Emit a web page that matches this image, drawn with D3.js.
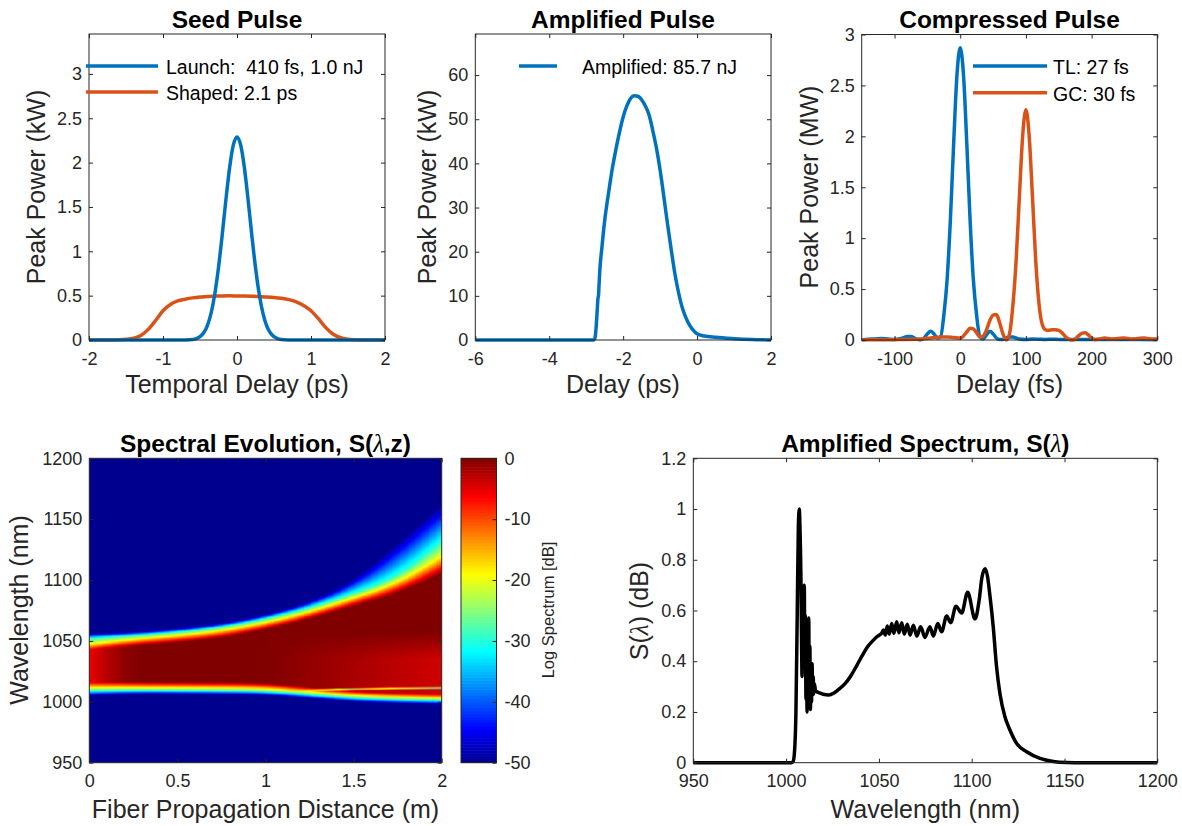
<!DOCTYPE html>
<html><head><meta charset="utf-8">
<script src="https://cdn.jsdelivr.net/npm/d3@7"></script>
<style>
body{margin:0;background:#fff;}
svg{display:block;}
</style></head><body>
<svg id="c" width="1182" height="826"></svg>
<script>
// ---------------- DATA ----------------
// Seed pulse
const seedLaunchT = [-2,-1,-0.8,-0.7,-0.6,-0.55,-0.5,-0.45,-0.4,-0.35,-0.3,-0.25,-0.2,-0.15,-0.1,-0.05,0,0.05,0.1,0.15,0.2,0.25,0.3,0.35,0.4,0.45,0.5,0.55,0.6,0.7,0.8,1,2];
const seedLaunchP = [0,0,0,0.001,0.006,0.016,0.037,0.081,0.163,0.303,0.519,0.817,1.184,1.58,1.942,2.197,2.29,2.197,1.942,1.58,1.184,0.817,0.519,0.303,0.163,0.081,0.037,0.016,0.006,0.001,0,0,0];
const seedShapedT = [-2,-1.9,-1.8,-1.7,-1.6,-1.5,-1.4,-1.3,-1.2,-1.1,-1,-0.9,-0.8,-0.7,-0.6,-0.5,-0.4,-0.3,-0.2,-0.1,0,0.1,0.2,0.3,0.4,0.5,0.6,0.7,0.8,0.9,1,1.1,1.2,1.3,1.4,1.5,1.6,1.7,1.8,1.9,2];
const seedShapedP = [0,0,0,0.001,0.003,0.008,0.02,0.05,0.12,0.22,0.33,0.40,0.44,0.46,0.475,0.485,0.49,0.495,0.497,0.498,0.497,0.496,0.494,0.49,0.486,0.48,0.47,0.455,0.43,0.39,0.33,0.24,0.14,0.065,0.025,0.009,0.003,0.001,0,0,0];
// Amplified pulse
const ampT = [-6,-5,-4,-3,-2.8,-2.76,-2.73,-2.70,-2.68,-2.665,-2.655,-2.63,-2.58,-2.5,-2.4,-2.3,-2.2,-2.1,-2.0,-1.9,-1.8,-1.7,-1.6,-1.5,-1.4,-1.3,-1.2,-1.1,-1.0,-0.9,-0.8,-0.7,-0.6,-0.5,-0.4,-0.3,-0.2,-0.1,0,0.2,0.5,1.0,1.5,2.0];
const ampP = [0,0,0,0,0,0.5,3,7,9.5,10.2,12,16,20.5,27,33,38.5,43,47,50.5,53,54.7,55.3,55.2,54.4,53,51,47.5,43.5,38.5,32.5,26.3,20.5,15,10.7,7.3,5,3.3,2.2,1.4,0.9,0.6,0.3,0.1,0];
// Compressed pulse
const tlT = [-150,-140,-130,-120,-110,-100,-90,-80,-75,-70,-65,-60,-55,-50,-45,-40,-35,-30,-25,-20,-15,-10,-5,0,5,10,15,20,25,30,35,40,45,50,55,60,65,70,75,80,85,90,100,110,120,130,140,150,170,200,230,260,300];
const tlP = [0.003,0.008,0.01,0.015,0.01,0.005,0.015,0.035,0.035,0.02,0.008,0.003,0.02,0.06,0.085,0.06,0.02,0.03,0.24,0.59,1.18,1.93,2.6,2.87,2.6,1.93,1.18,0.59,0.24,0.03,0.01,0.05,0.085,0.06,0.02,0.005,0.005,0.02,0.03,0.03,0.02,0.01,0.005,0.01,0.008,0.005,0.008,0.006,0.005,0.005,0.004,0.004,0.003];
const gcT = [-150,-120,-90,-60,-45,-30,-20,-10,0,5,10,15,20,25,30,35,40,45,50,55,60,65,70,75,80,85,90,95,100,105,110,115,120,125,130,135,140,145,150,155,160,165,170,175,180,185,190,195,200,205,210,220,230,240,250,260,270,280,290,300];
const gcP = [0.002,0.003,0.005,0.01,0.02,0.03,0.03,0.025,0.02,0.04,0.08,0.115,0.11,0.07,0.03,0.04,0.1,0.19,0.245,0.25,0.17,0.06,0.0,0.06,0.33,0.77,1.40,2.0,2.26,2.0,1.4,0.77,0.35,0.15,0.1,0.095,0.1,0.1,0.095,0.07,0.035,0.01,0.0,0.01,0.04,0.065,0.07,0.05,0.02,0.005,0.008,0.02,0.01,0.015,0.02,0.01,0.015,0.02,0.01,0.01];
// Amplified spectrum [wavelength nm, S]
const ampSpectrum = [[950,0],[1000,0],[1003,0],[1003.8,0.005],[1004.5,0.04],[1005.3,0.2],[1006.0,0.59],[1006.6,0.93],[1007.1,1.0],[1007.5,0.92],[1008.0,0.72],[1008.3,0.5],[1008.6,0.34],[1008.9,0.55],[1009.2,0.42],[1009.5,0.66],[1009.8,0.70],[1010.1,0.38],[1010.4,0.58],[1010.7,0.25],[1011.0,0.48],[1011.3,0.20],[1011.6,0.52],[1011.9,0.24],[1012.2,0.57],[1012.5,0.23],[1012.8,0.46],[1013.1,0.21],[1013.4,0.36],[1013.7,0.24],[1014.0,0.39],[1014.3,0.27],[1014.6,0.34],[1014.9,0.27],[1015.3,0.31],[1015.8,0.285],[1016.5,0.28],[1018,0.275],[1020,0.27],[1023,0.267],[1026,0.276],[1029,0.293],[1032,0.314],[1035,0.344],[1038,0.382],[1041,0.422],[1044,0.458],[1047,0.483],[1049,0.497],[1050.6,0.505],[1051.5,0.51],[1052.4,0.523],[1053.5,0.503],[1054.5,0.539],[1055.6,0.507],[1056.9,0.549],[1058.1,0.51],[1059.6,0.556],[1060.8,0.512],[1062.3,0.552],[1063.7,0.507],[1065.3,0.546],[1066.8,0.503],[1068.6,0.542],[1070.4,0.499],[1072.5,0.536],[1074.8,0.494],[1077.5,0.536],[1079.3,0.499],[1081.7,0.549],[1083.8,0.516],[1086.5,0.578],[1088.7,0.552],[1091.5,0.617],[1094.6,0.59],[1097.8,0.672],[1101.8,0.567],[1104,0.64],[1105.5,0.73],[1107.2,0.765],[1108.5,0.735],[1109.8,0.66],[1111.6,0.536],[1113.4,0.378],[1115.2,0.273],[1117.9,0.181],[1120.6,0.129],[1124.2,0.076],[1129.6,0.043],[1136.8,0.017],[1144,0.005],[1151,0.001],[1160,0],[1200,0]];
// Spectral evolution: band contours (dB) read versus propagation distance
const evoZ = [0, 0.25, 0.5, 0.75, 1.0, 1.25, 1.5, 1.75, 2.0];
const evoUpperEdge  = [1048, 1052.5, 1055.4, 1059, 1065.8, 1074.5, 1086.4, 1098, 1120.6]; // -20 dB contour
const evoUpperInner = [6, 6, 6, 6, 6, 6, 7, 9, 15];          // nm from -20 dB to core
const evoUpperFall1 = [5, 2.6, 2.4, 2.5, 2.8, 3, 3.4, 4.5, 12];  // nm from -20 to -30 dB
const evoUpperFall2 = [3.5, 2.5, 2.7, 3, 3, 4.5, 9, 28, 30];   // nm from -30 to -50 dB
const evoLowerEdge  = [1012, 1012, 1011.8, 1011.6, 1011.3, 1008.5, 1005.6, 1004.3, 1003.6];
const evoLowerInner = [6, 5, 5, 5, 5, 4, 4, 4, 4];
const evoLowerFall1 = [2.5, 2, 2, 2, 2, 2, 2, 2, 2];
const evoLowerFall2 = [4, 3, 3, 3, 3, 3, 3, 3, 3];
const evoCoreZ  = [0, 0.05, 0.1, 0.2, 0.3, 1.0, 1.25, 1.5, 1.75, 2.0];
const evoCoreDb = [-5.5, -4.2, -2.8, -0.8, 0, 0, 0, 0, 0, 0];
const evoLowBandDb = [0, 0, 0, 0, 0, 0, -1, -2, -3, -4];   // lighter red below ~1045 nm
const evoNotchZ = [1.15, 1.3, 1.5, 1.75, 2.0];
const evoNotchLam = [1009.5, 1010.3, 1011.2, 1011.6, 1011.8];
const evoNotchDb = [0, -12, -25, -30, -30];
// Ticks
const seedXTicks = [-2,-1,0,1,2], seedYTicks = [0,0.5,1,1.5,2,2.5,3];
const ampXTicks = [-6,-4,-2,0,2], ampYTicks = [0,10,20,30,40,50,60];
const compXTicks = [-100,0,100,200,300], compYTicks = [0,0.5,1,1.5,2,2.5,3];
const evoXTicks = [0,0.5,1,1.5,2], evoYTicks = [950,1000,1050,1100,1150,1200];
const cbTicks = [-50,-40,-30,-20,-10,0];
const specXTicks = [950,1000,1050,1100,1150,1200], specYTicks = [0,0.2,0.4,0.6,0.8,1,1.2];

// ---------------- DRAWING ----------------
const FONT = '"Liberation Sans", Arial, Helvetica, sans-serif';
const SERIF = '"Liberation Serif", "Times New Roman", serif';
const AX = "#262626", BLUE = "#0072BD", ORANGE = "#D95319";
const LW = 3.5, TICKF = 18, LABF = 25, TITF = 24.5, LEGF = 19.5;
const svg = d3.select("#c").attr("font-family", FONT);

function drawAxes(x, y, xt, yt) {
  const g = svg.append("g").attr("color", AX);
  const [x0, x1] = x.range(); const [y1, y0] = y.range();
  const fmt = d => String(d);
  const ts = 4;
  g.append("g").attr("transform", `translate(0,${y1})`).call(d3.axisBottom(x).tickValues(xt).tickSize(-ts).tickPadding(12).tickFormat(fmt));
  g.append("g").attr("transform", `translate(0,${y0})`).call(d3.axisTop(x).tickValues(xt).tickSize(-ts).tickFormat(""));
  g.append("g").attr("transform", `translate(${x0},0)`).call(d3.axisLeft(y).tickValues(yt).tickSize(-ts).tickPadding(7).tickFormat(fmt));
  g.append("g").attr("transform", `translate(${x1},0)`).call(d3.axisRight(y).tickValues(yt).tickSize(-ts).tickFormat(""));
  g.selectAll(".domain").remove();
  g.selectAll("text").attr("font-family", FONT).attr("font-size", TICKF).attr("fill", AX);
  g.append("rect").attr("x", x0).attr("y", y0).attr("width", x1 - x0).attr("height", y1 - y0)
    .attr("fill", "none").attr("stroke", AX).attr("stroke-width", 1);
}
function title(txt, cx, by, lam) {
  const t = svg.append("text").attr("x", cx).attr("y", by).attr("text-anchor", "middle")
    .attr("font-size", TITF).attr("font-weight", "bold").attr("fill", "#000");
  if (!lam) { t.text(txt); return; }
  t.append("tspan").text(lam[0]);
  t.append("tspan").attr("font-family", SERIF).attr("font-style", "italic").attr("font-weight", "normal").text("λ");
  t.append("tspan").text(lam[1]);
}
function xlab(txt, cx, by) {
  svg.append("text").attr("x", cx).attr("y", by).attr("text-anchor", "middle")
    .attr("font-size", LABF).attr("fill", AX).text(txt);
}
function ylab(parts, bx, cy, size) {
  const t = svg.append("text").attr("transform", `translate(${bx},${cy}) rotate(-90)`)
    .attr("text-anchor", "middle").attr("font-size", size || LABF).attr("fill", AX);
  if (typeof parts === "string") { t.text(parts); return; }
  t.append("tspan").text(parts[0]);
  t.append("tspan").attr("font-family", SERIF).attr("font-style", "italic").text("λ");
  t.append("tspan").text(parts[1]);
}
function line(x, y, X, Y, color, curve) {
  const pts = X.map((v, i) => [v, Y[i]]);
  svg.append("path").datum(pts).attr("fill", "none").attr("stroke", color).attr("stroke-width", LW)
    .attr("stroke-linejoin", "round")
    .attr("d", d3.line().x(d => x(d[0])).y(d => y(d[1])).curve(curve || d3.curveMonotoneX));
}
function legendItem(x1, x2, ly, color, txt, tx) {
  svg.append("line").attr("x1", x1).attr("x2", x2).attr("y1", ly).attr("y2", ly)
    .attr("stroke", color).attr("stroke-width", LW);
  svg.append("text").attr("x", tx).attr("y", ly + 8).attr("font-size", LEGF).attr("fill", "#000")
    .style("white-space", "pre").text(txt);
}

// Panel 1: Seed pulse
{
  const x = d3.scaleLinear().domain([-2, 2]).range([89, 385]);
  const y = d3.scaleLinear().domain([0, 3.45]).range([340, 34]);
  line(x, y, seedShapedT, seedShapedP, ORANGE);
  line(x, y, seedLaunchT, seedLaunchP, BLUE);
  drawAxes(x, y, seedXTicks, seedYTicks);
  title("Seed Pulse", 237, 28);
  xlab("Temporal Delay (ps)", 237, 393);
  ylab("Peak Power (kW)", 45, 187);
  legendItem(86, 158, 66, BLUE, "Launch:  410 fs, 1.0 nJ", 166);
  legendItem(86, 158, 92, ORANGE, "Shaped: 2.1 ps", 166);
}
// Panel 2: Amplified pulse
{
  const x = d3.scaleLinear().domain([-6, 2]).range([475.3, 771]);
  const y = d3.scaleLinear().domain([0, 69.3]).range([340, 34]);
  line(x, y, ampT, ampP, BLUE);
  drawAxes(x, y, ampXTicks, ampYTicks);
  title("Amplified Pulse", 623, 28);
  xlab("Delay (ps)", 623, 393);
  ylab("Peak Power (kW)", 436, 187);
  legendItem(519, 557, 66, BLUE, "Amplified: 85.7 nJ", 582);
}
// Panel 3: Compressed pulse
{
  const x = d3.scaleLinear().domain([-150, 300]).range([861.7, 1157.3]);
  const y = d3.scaleLinear().domain([0, 3]).range([340, 34.5]);
  line(x, y, tlT, tlP, BLUE);
  line(x, y, gcT, gcP, ORANGE);
  drawAxes(x, y, compXTicks, compYTicks);
  title("Compressed Pulse", 1009.5, 28);
  xlab("Delay (fs)", 1009.5, 393);
  ylab("Peak Power (MW)", 818, 187);
  legendItem(973, 1047, 66, BLUE, "TL: 27 fs", 1053);
  legendItem(973, 1047, 92.7, ORANGE, "GC: 30 fs", 1053);
}
// Jet colormap
const jet = d3.scaleLinear()
  .domain([-50, -44.44, -31.75, -19.05, -6.35, 0])
  .range(["#00008f", "#0000ff", "#00ffff", "#ffff00", "#ff0000", "#800000"])
  .interpolate(d3.interpolateRgb).clamp(true);

// Panel 4: Spectral evolution heat map
{
  const X0 = 89.3, X1 = 441.7, Y0 = 458.3, Y1 = 762.7;
  const x = d3.scaleLinear().domain([0, 2]).range([X0, X1]);
  const y = d3.scaleLinear().domain([950, 1200]).range([Y1, Y0]);
  const zt = d3.scaleLinear().domain([0, 2]).range([0, 1]).clamp(true);
  const f = arr => { const ib = d3.interpolateBasis(arr); return z => ib(zt(z)); };
  const uE = f(evoUpperEdge), uI = f(evoUpperInner), uF1 = f(evoUpperFall1), uF2 = f(evoUpperFall2);
  const lE = f(evoLowerEdge), lI = f(evoLowerInner), lF1 = f(evoLowerFall1), lF2 = f(evoLowerFall2);
  const core = d3.scaleLinear().domain(evoCoreZ).range(evoCoreDb).clamp(true);
  const lowBand = d3.scaleLinear().domain(evoCoreZ).range(evoLowBandDb).clamp(true);
  const lowShape = d3.scaleLinear().domain([1036, 1058]).range([1, 0]).clamp(true);
  const nL = d3.scaleLinear().domain(evoNotchZ).range(evoNotchLam).clamp(true);
  const nD = d3.scaleLinear().domain(evoNotchZ).range(evoNotchDb).clamp(true);
  function side(d, inner, f1, f2) {
    if (d <= 0) return Math.min(0, -20 + 20 * (-d) / inner);
    if (d <= f1) return -20 - 10 * d / f1;
    return -30 - 20 * (d - f1) / f2;
  }
  function dB(z, lam) {
    let v = core(z) + lowBand(z) * lowShape(lam);
    v = Math.min(v, side(lam - uE(z), uI(z), uF1(z), uF2(z)), side(lE(z) - lam, lI(z), lF1(z), lF2(z)));
    const nd = nD(z);
    if (nd < 0 && z >= evoNotchZ[0]) { const q = (lam - nL(z)) / 0.6; v += nd * Math.exp(-q * q); }
    return Math.max(-50, v);
  }
  const cw = Math.round(X1 - X0), ch = Math.round(Y1 - Y0);
  const cv = document.createElement("canvas"); cv.width = cw; cv.height = ch;
  const ctx = cv.getContext("2d");
  ctx.fillStyle = jet(-50); ctx.fillRect(0, 0, cw, ch);
  const dz = 0.01, dl = 0.5;
  for (let i = 0; i <= 200; i++) {
    const z = i * dz;
    const xa = Math.floor(x(Math.max(0, z - dz / 2)) - X0), xb = Math.ceil(x(Math.min(2, z + dz / 2)) - X0);
    for (let j = 0; j <= 500; j++) {
      const lam = 950 + j * dl;
      const v = dB(z, lam);
      if (v <= -49.99) continue;
      const ya = Math.floor(y(lam + dl / 2) - Y0), yb = Math.ceil(y(lam - dl / 2) - Y0);
      ctx.fillStyle = jet(v);
      ctx.fillRect(xa, ya, xb - xa, yb - ya);
    }
  }
  svg.append("image").attr("href", cv.toDataURL()).attr("x", X0).attr("y", Y0)
    .attr("width", X1 - X0).attr("height", Y1 - Y0).attr("preserveAspectRatio", "none");
  drawAxes(x, y, evoXTicks, evoYTicks);
  title(null, 265.5, 451.5, ["Spectral Evolution, S(", ",z)"]);
  xlab("Fiber Propagation Distance (m)", 265.5, 818);
  ylab("Wavelength (nm)", 28, 610);

  // colorbar
  const cx0 = 461, cx1 = 496.5;
  const cy = d3.scaleLinear().domain([-50, 0]).range([Y1, Y0]);
  const steps = d3.range(-50, 0, 0.5);
  svg.append("g").selectAll("rect").data(steps).join("rect")
    .attr("x", cx0).attr("width", cx1 - cx0)
    .attr("y", d => cy(d + 0.5) - 0.3).attr("height", d => cy(d) - cy(d + 0.5) + 0.6)
    .attr("fill", d => jet(d + 0.25));
  const cg = svg.append("g").attr("color", AX).attr("transform", `translate(${cx1},0)`)
    .call(d3.axisRight(cy).tickValues(cbTicks).tickSize(-4).tickPadding(8).tickFormat(d => String(d)));
  cg.select(".domain").remove();
  cg.selectAll("text").attr("font-family", FONT).attr("font-size", TICKF).attr("fill", AX);
  svg.append("rect").attr("x", cx0).attr("y", Y0).attr("width", cx1 - cx0).attr("height", Y1 - Y0)
    .attr("fill", "none").attr("stroke", AX).attr("stroke-width", 1);
  ylab("Log Spectrum [dB]", 554, 610, 16.5);
}
// Panel 5: Amplified spectrum
{
  const x = d3.scaleLinear().domain([950, 1200]).range([693.3, 1157.3]);
  const y = d3.scaleLinear().domain([0, 1.2]).range([762.7, 458.3]);
  line(x, y, ampSpectrum.map(d => d[0]), ampSpectrum.map(d => d[1]), "#000");
  drawAxes(x, y, specXTicks, specYTicks);
  title(null, 925.3, 451.5, ["Amplified Spectrum, S(", ")"]);
  xlab("Wavelength (nm)", 925.3, 818);
  ylab(["S(", ") (dB)"], 648, 611);
}
</script>
</body></html>
